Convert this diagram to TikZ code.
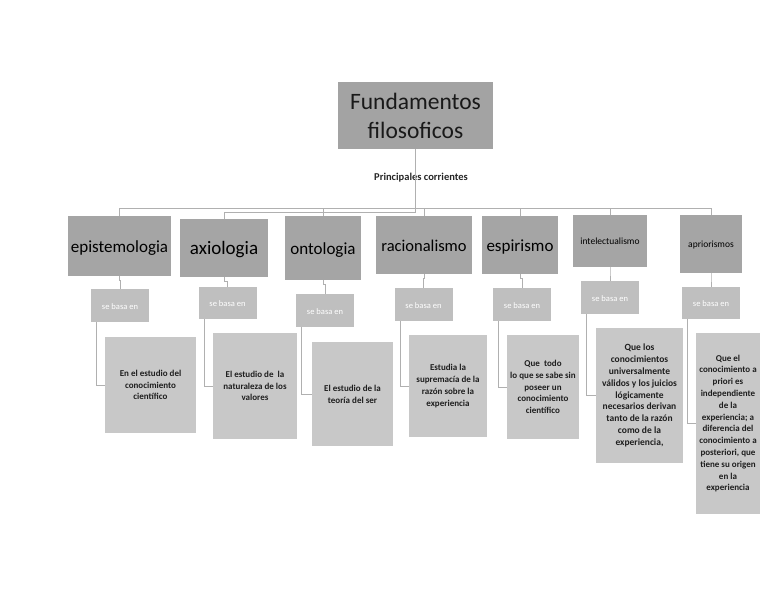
\documentclass[tikz,border=0pt]{standalone}
\usepackage{fontspec}
\setmainfont{Carlito}
\definecolor{rootfill}{HTML}{A3A3A3}
\definecolor{lvlfill}{HTML}{A5A5A5}
\definecolor{basefill}{HTML}{BFBFBF}
\definecolor{descfill}{HTML}{C8C8C8}
\definecolor{linec}{HTML}{B0B0B0}
\definecolor{desctext}{HTML}{1E1E1E}
\tikzset{
  box/.style={inner sep=0pt, align=center, anchor=center},
  rootbox/.style={box, fill=rootfill, text=black!90, font=\fontsize{23.5}{29}\selectfont},
  lvl/.style={box, fill=lvlfill, text=black},
  lvlbig/.style={lvl, font=\fontsize{17}{20}\selectfont, text height=14pt, text depth=1pt},
  lvlsmall/.style={lvl, font=\fontsize{9.5}{11}\selectfont, text height=8.5pt, text depth=1pt},
  basebox/.style={box, fill=basefill, text=white, font=\fontsize{8.5}{10}\selectfont, minimum width=58pt, minimum height=33pt, text height=8.5pt, text depth=1pt},
  descbox/.style={box, fill=descfill, text=desctext, font=\bfseries\fontsize{9}{11.8}\selectfont},
  conn/.style={draw=linec, line width=0.8pt},
  lbl/.style={inner sep=0pt, font=\bfseries\fontsize{10.5}{12}\selectfont, text=black!85}
}
\begin{document}
\begin{tikzpicture}[x=1pt,y=-1pt]
\useasboundingbox (0,0) rectangle (768,594);
% root
\node[rootbox, minimum width=155pt, minimum height=67pt] (root) at (415.5,115.5) {Fundamentos\\filosoficos};
\node[lbl] (plabel) at (421,177.5) {Principales corrientes};
% level 1
\node[lvlbig, minimum width=103pt, minimum height=60pt] (e1) at (119.5,246) {epistemologia};
\node[lvlbig, font=\fontsize{19}{22}\selectfont, minimum width=88pt, minimum height=58pt] (e2) at (224,248) {axiologia};
\node[lvlbig, minimum width=76pt, minimum height=64pt] (e3) at (323,248) {ontologia};
\node[lvlbig, font=\fontsize{16.5}{20}\selectfont, minimum width=96pt, minimum height=58pt] (e4) at (424,245) {racionalismo};
\node[lvlbig, minimum width=76pt, minimum height=58pt] (e5) at (520,245) {espirismo};
\node[lvlsmall, minimum width=74pt, minimum height=52pt] (e6) at (610,241) {intelectualismo};
\node[lvlsmall, minimum width=62pt, minimum height=58pt] (e7) at (711,244) {apriorismos};
% se basa en
\node[basebox] (s1) at (120,305.5) {se basa en};
\node[basebox, minimum height=32pt] (s2) at (227.5,303) {se basa en};
\node[basebox] (s3) at (325,310.5) {se basa en};
\node[basebox] (s4) at (423.5,304.5) {se basa en};
\node[basebox] (s5) at (522,304.5) {se basa en};
\node[basebox] (s6) at (610,297.5) {se basa en};
\node[basebox, minimum height=32pt] (s7) at (711,303) {se basa en};
% descriptions
\node[descbox, minimum width=91pt, minimum height=96pt] (d1) at (150.5,385) {En el estudio del\\conocimiento\\científico};
\node[descbox, minimum width=84pt, minimum height=106pt] (d2) at (255,386) {El estudio de\ \ la\\naturaleza de los\\valores};
\node[descbox, minimum width=81pt, minimum height=104pt] (d3) at (352.5,394) {El estudio de la\\teoría del ser};
\node[descbox, minimum width=78pt, minimum height=102pt] (d4) at (448,386) {Estudia la\\supremacía de la\\razón sobre la\\experiencia};
\node[descbox, minimum width=72pt, minimum height=104pt] (d5) at (543,387) {Que\ \ todo\\lo que se sabe sin\\poseer un\\conocimiento\\científico};
\node[descbox, font=\bfseries\fontsize{9.5}{11.8}\selectfont, minimum width=87pt, minimum height=135pt] (d6) at (639.5,395.5) {Que los\\conocimientos\\universalmente\\válidos y los juicios\\lógicamente\\necesarios derivan\\tanto de la razón\\como de la\\experiencia,};
\node[descbox, minimum width=64pt, minimum height=181pt] (d7) at (728,423.5) {Que el\\conocimiento a\\priori es\\independiente\\de la\\experiencia; a\\diferencia del\\conocimiento a\\posteriori, que\\tiene su origen\\en la\\experiencia};
% bus connectors
\coordinate (bus) at (0,208);
\coordinate (bus2) at (0,212);
\draw[conn] (root.south) -- (root.south |- bus2) -| (e2.north);
\draw[conn] (e1.north) |- (e7.north |- bus) -- (e7.north);
\foreach \n in {e3,e4,e5,e6} {\draw[conn] (\n.north |- bus) -- (\n.north);}
% level1 -> se basa
\foreach \i in {1,...,7} {\draw[conn] (e\i.south) -- ++(0,4) -| (s\i.north);}
% se basa -> description
\foreach \i in {1,...,7} {\draw[conn] ([xshift=6pt]s\i.south west) |- (d\i.west);}
\end{tikzpicture}
\end{document}
